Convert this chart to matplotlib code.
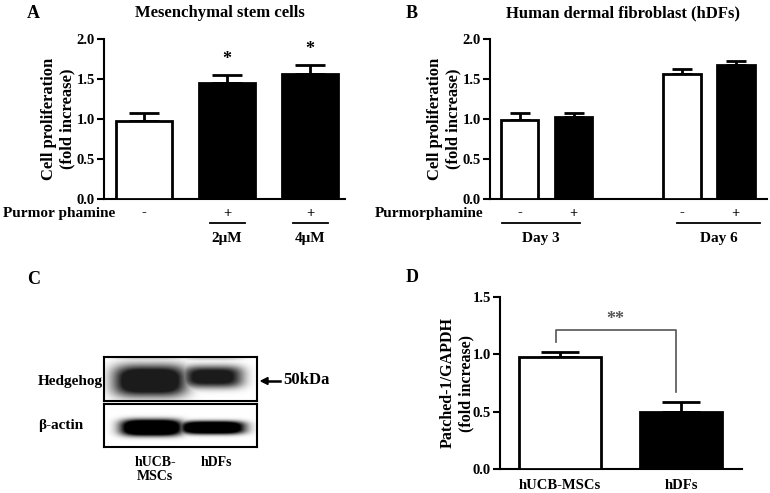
import numpy as np
import matplotlib
matplotlib.use("Agg")
import matplotlib.pyplot as plt

plt.rcParams['font.family'] = ['Liberation Serif', 'DejaVu Serif']
plt.rcParams['font.weight'] = 'bold'

# panel A - mesenchymal stem cells
a_values = [0.975, 1.445, 1.56]
a_err = [0.10, 0.105, 0.11]
a_treat = ["-", "+", "+"]
a_dose = ["", "2\u03bcM", "4\u03bcM"]
a_stars = ["", "*", "*"]
a_colors = ["white", "black", "black"]

# panel B - hDFs
b_pos = [0, 1, 3, 4]
b_values = [0.99, 1.03, 1.56, 1.67]
b_err = [0.085, 0.05, 0.06, 0.05]
b_treat = ["-", "+", "-", "+"]
b_colors = ["white", "black", "white", "black"]
b_days = ["Day 3", "Day 6"]

# panel C - western blot band intensities (lane 1 = hUCB-MSCs, lane 2 = hDFs)
c_rows = ["Hedgehog", "\u03b2-actin"]
c_lanes = ["hUCB-\nMSCs", "hDFs"]
c_hh_strength = [1.0, 0.85]
c_actin_strength = [1.0, 0.95]

# panel D - Patched-1
d_labels = ["hUCB-MSCs", "hDFs"]
d_values = [0.98, 0.495]
d_err = [0.04, 0.088]
d_colors = ["white", "black"]

W, H = 770, 493
fig = plt.figure(figsize=(W / 100, H / 100), dpi=100)


def box(x0, y0, x1, y1):
    # pixel box (top-left origin) -> figure fraction rect
    return [x0 / W, (H - y1) / H, (x1 - x0) / W, (y1 - y0) / H]


def style_axes(ax):
    for s in ["top", "right"]:
        ax.spines[s].set_visible(False)
    for s in ["left", "bottom"]:
        ax.spines[s].set_linewidth(1.5)
    ax.tick_params(axis="y", direction="out", length=5, width=1.5, labelsize=10.5, pad=1.5)
    ax.tick_params(axis="x", length=0)
    for lab in ax.get_yticklabels():
        lab.set_fontweight("bold")


def bars(ax, x, vals, err, colors, width, cap):
    ax.bar(x, vals, width=width, color=colors, edgecolor="black", linewidth=2, zorder=3)
    ax.errorbar(x, vals, yerr=[np.zeros(len(vals)), err], fmt="none", ecolor="black",
                elinewidth=2, capsize=cap, capthick=2, zorder=2)


# ---------------- A ----------------
axA = fig.add_axes(box(104, 39, 345, 199))
xA = np.arange(len(a_values))
bars(axA, xA, a_values, a_err, a_colors, 0.675, 11)
axA.set_xlim(-0.482, 2.42)
axA.set_ylim(0, 2.0)
axA.set_yticks([0, 0.5, 1.0, 1.5, 2.0])
axA.set_yticklabels(["0.0", "0.5", "1.0", "1.5", "2.0"])
axA.set_xticks([])
style_axes(axA)
axA.set_ylabel("Cell proliferation\n(fold increase)", fontsize=12, fontweight="bold", labelpad=1, linespacing=1.15)
tA = axA.get_xaxis_transform()
for i in range(len(a_values)):
    axA.text(xA[i], -0.0875, a_treat[i], transform=tA, ha="center", va="center", fontsize=10.5, clip_on=False)
    if a_dose[i]:
        axA.plot([xA[i] - 0.21, xA[i] + 0.21], [-0.15, -0.15], transform=tA, color="black", lw=1.3, clip_on=False)
        axA.text(xA[i], -0.245, a_dose[i], transform=tA, ha="center", va="center", fontsize=11, clip_on=False)
    if a_stars[i]:
        axA.text(xA[i], a_values[i] + a_err[i] + 0.2, a_stars[i], ha="center", va="center", fontsize=13)
fig.text(3 / W, 1 - 214 / H, "Purmor phamine", ha="left", va="center", fontsize=11, fontweight="bold")
fig.text(220 / W, 1 - 13 / H, "Mesenchymal stem cells", ha="center", va="center", fontsize=12, fontweight="bold")
fig.text(27 / W, 1 - 13 / H, "A", ha="left", va="center", fontsize=13, fontweight="bold")

# ---------------- B ----------------
axB = fig.add_axes(box(490, 39, 767, 199))
bars(axB, b_pos, b_values, b_err, b_colors, 0.70, 7)
axB.set_xlim(-0.546, 4.58)
axB.set_ylim(0, 2.0)
axB.set_yticks([0, 0.5, 1.0, 1.5, 2.0])
axB.set_yticklabels(["0.0", "0.5", "1.0", "1.5", "2.0"])
axB.set_xticks([])
style_axes(axB)
axB.set_ylabel("Cell proliferation\n(fold increase)", fontsize=12, fontweight="bold", labelpad=1, linespacing=1.15)
tB = axB.get_xaxis_transform()
for p, t in zip(b_pos, b_treat):
    axB.text(p, -0.0875, t, transform=tB, ha="center", va="center", fontsize=10.5, clip_on=False)
for (l0, l1), day in zip([(-0.32, 1.12), (2.92, 4.45)], b_days):
    axB.plot([l0, l1], [-0.15, -0.15], transform=tB, color="black", lw=1.3, clip_on=False)
    axB.text((l0 + l1) / 2, -0.245, day, transform=tB, ha="center", va="center", fontsize=11, clip_on=False)
fig.text(483 / W, 1 - 214 / H, "Purmorphamine", ha="right", va="center", fontsize=11, fontweight="bold")
fig.text(623 / W, 1 - 13 / H, "Human dermal fibroblast (hDFs)", ha="center", va="center", fontsize=12, fontweight="bold")
fig.text(406 / W, 1 - 13 / H, "B", ha="left", va="center", fontsize=13, fontweight="bold")

# ---------------- C ----------------
fig.text(27 / W, 1 - 279 / H, "C", ha="left", va="center", fontsize=13, fontweight="bold")


def blot(ax, centers, halfw, halfh, yc, strength, gain, vmax, haze=0.0):
    nx, ny = 300, 90
    xs = np.linspace(0, 1, nx)
    ys = np.linspace(0, 1, ny)
    X, Y = np.meshgrid(xs, ys)
    img = np.zeros_like(X)
    for c, hw, hh, y0, s in zip(centers, halfw, halfh, yc, strength):
        gx = np.exp(-np.abs((X - c) / hw) ** 4)
        gy = np.exp(-np.abs((Y - y0) / hh) ** 3)
        img = np.maximum(img, s * gx * gy)
        if haze:
            # faint upper band near the top edge
            img = np.maximum(img, haze * gx * np.exp(-((Y - 0.97) / 0.05) ** 2))
    img = np.clip(img * gain, 0, 1)
    ax.imshow(img, cmap="gray_r", vmin=0, vmax=vmax, extent=[0, 1, 0, 1], origin="lower",
              aspect="auto", interpolation="bilinear")
    ax.set_xlim(0, 1)
    ax.set_ylim(0, 1)
    ax.set_xticks([])
    ax.set_yticks([])
    for s in ax.spines.values():
        s.set_linewidth(1.5)


axC1 = fig.add_axes(box(104, 357, 257, 401))
blot(axC1, [0.30, 0.71], [0.24, 0.20], [0.36, 0.25], [0.46, 0.55],
     c_hh_strength, 1.4, 1.12, haze=0.15)
axC2 = fig.add_axes(box(104, 404, 257, 447))
blot(axC2, [0.31, 0.71], [0.20, 0.21], [0.19, 0.15], [0.45, 0.45],
     c_actin_strength, 1.8, 1.0)
fig.text(38 / W, 1 - 381 / H, c_rows[0], ha="left", va="center", fontsize=11, fontweight="bold")
fig.text(38 / W, 1 - 425 / H, c_rows[1], ha="left", va="center", fontsize=11, fontweight="bold")
fig.add_artist(plt.Line2D([266 / W, 280 / W], [1 - 381 / H, 1 - 381 / H], color="black", lw=1.8,
                          transform=fig.transFigure))
fig.add_artist(plt.Polygon([[261 / W, 1 - 381 / H], [268 / W, 1 - 377.5 / H], [268 / W, 1 - 384.5 / H]],
                           closed=True, color="black", transform=fig.transFigure))
fig.text(283 / W, 1 - 380 / H, "50kDa", ha="left", va="center", fontsize=12, fontweight="bold")
fig.text(155 / W, 1 - 456 / H, c_lanes[0], ha="center", va="top", fontsize=10, fontweight="bold", linespacing=1.1)
fig.text(216 / W, 1 - 456 / H, c_lanes[1], ha="center", va="top", fontsize=10, fontweight="bold")

# ---------------- D ----------------
axD = fig.add_axes(box(500, 296.7, 742, 469.3))
xD = np.arange(len(d_values))
bars(axD, xD, d_values, d_err, d_colors, 0.678, 14)
axD.set_xlim(-0.496, 1.504)
axD.set_ylim(0, 1.5)
axD.set_yticks([0, 0.5, 1.0, 1.5])
axD.set_yticklabels(["0.0", "0.5", "1.0", "1.5"])
axD.set_xticks(xD)
axD.set_xticklabels(d_labels, fontsize=10.5, fontweight="bold")
style_axes(axD)
axD.tick_params(axis="x", pad=7)
axD.set_ylabel("Patched-1/GAPDH\n(fold increase)", fontsize=11.5, fontweight="bold", labelpad=-1, linespacing=1.15)
axD.plot([-0.03, -0.03, 0.955, 0.955], [1.11, 1.21, 1.21, 0.675], color="#555555", lw=1.2)
axD.text(0.46, 1.30, "**", ha="center", va="center", fontsize=13, color="#555555")
fig.text(406 / W, 1 - 278 / H, "D", ha="left", va="center", fontsize=13, fontweight="bold")

fig.savefig("out.png", dpi=100)
